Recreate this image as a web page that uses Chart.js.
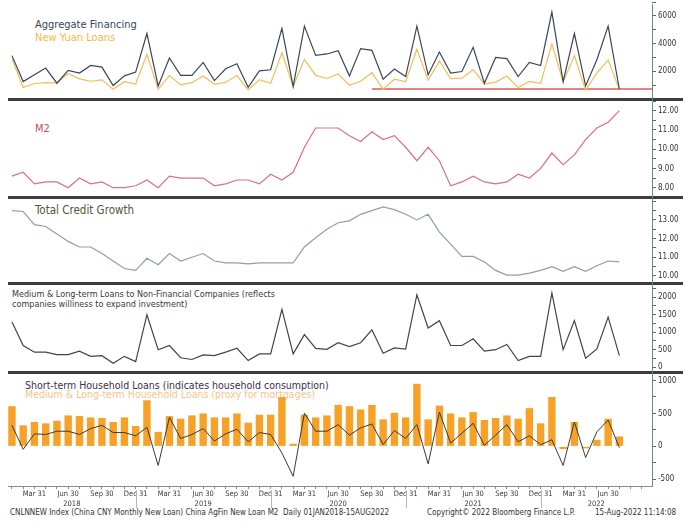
<!DOCTYPE html>
<html>
<head>
<meta charset="utf-8">
<script src="https://cdn.jsdelivr.net/npm/chart.js@4.4.0/dist/chart.umd.min.js"></script>
<style>
  html, body { margin: 0; padding: 0; background: #fff; }
  #lienzo {
    position: relative; width: 700px; height: 525px; overflow: hidden;
    font-family: "DejaVu Sans Condensed", "DejaVu Sans", sans-serif;
  }
  .titulo { position: absolute; white-space: nowrap; line-height: 1; z-index: 1; }
  canvas.panel { position: absolute; left: 0; z-index: 2; }
  .separador { position: absolute; left: 8px; width: 675px; height: 3px; background: #3d3d3d; z-index: 3; }
  .eje-derecho { position: absolute; left: 652px; top: 4px; width: 1px; height: 482px; background: #6f8a80; z-index: 4; }
  .pie { position: absolute; top: 509px; font-size: 8px; line-height: 1; color: #333; white-space: nowrap; }
</style>
</head>
<body>
<div id="lienzo">
  <div class="titulo" style="left:35px; top:19px; font-size:11px; color:#37455a;">Aggregate Financing</div>
  <div class="titulo" style="left:35px; top:32px; font-size:11px; color:#f2b84b;">New Yuan Loans</div>
  <div class="titulo" style="left:35px; top:123px; font-size:11px; color:#c94c5c;">M2</div>
  <div class="titulo" style="left:35px; top:205px; font-size:11.5px; color:#4b5a3c;">Total Credit Growth</div>
  <div class="titulo" style="left:12px; top:290px; font-size:9px; color:#3a3a3a;">Medium &amp; Long-term Loans to Non-Financial Companies (reflects</div>
  <div class="titulo" style="left:12px; top:300px; font-size:9px; color:#3a3a3a;">companies williness to expand investment)</div>
  <div class="titulo" style="left:25px; top:380px; font-size:10.5px; color:#3b2f4d;">Short-term Household Loans (indicates household consumption)</div>
  <div class="titulo" style="left:25px; top:389px; font-size:10.5px; color:#f9c48a;">Medium &amp; Long-term Household Loans (proxy for mortgages)</div>

  <canvas class="panel" id="chart-financiamiento"></canvas>
  <canvas class="panel" id="chart-m2"></canvas>
  <canvas class="panel" id="chart-credito"></canvas>
  <canvas class="panel" id="chart-empresas"></canvas>
  <canvas class="panel" id="chart-hogares"></canvas>

  <div class="separador" style="top:97.5px;"></div>
  <div class="separador" style="top:195.7px;"></div>
  <div class="separador" style="top:282.3px;"></div>
  <div class="separador" style="top:371px;"></div>
  <div class="eje-derecho"></div>

  <div class="pie" style="left:10px;">CNLNNEW Index (China CNY Monthly New Loan) China AgFin New Loan M2&nbsp; Daily 01JAN2018-15AUG2022</div>
  <div class="pie" style="left:427px;">Copyright© 2022 Bloomberg Finance L.P.</div>
  <div class="pie" style="left:595px;">15-Aug-2022 11:14:08</div>
</div>

<script>
'use strict';

// ====================
//  Datos (mensuales, ene-2018 .. jul-2022)
// ====================
const meses = [
  '2018-01', '2018-02', '2018-03', '2018-04', '2018-05', '2018-06', '2018-07', '2018-08', '2018-09', '2018-10', '2018-11', '2018-12',
  '2019-01', '2019-02', '2019-03', '2019-04', '2019-05', '2019-06', '2019-07', '2019-08', '2019-09', '2019-10', '2019-11', '2019-12',
  '2020-01', '2020-02', '2020-03', '2020-04', '2020-05', '2020-06', '2020-07', '2020-08', '2020-09', '2020-10', '2020-11', '2020-12',
  '2021-01', '2021-02', '2021-03', '2021-04', '2021-05', '2021-06', '2021-07', '2021-08', '2021-09', '2021-10', '2021-11', '2021-12',
  '2022-01', '2022-02', '2022-03', '2022-04', '2022-05', '2022-06', '2022-07'
];

const etiquetasTrimestre = ['Mar 31', 'Jun 30', 'Sep 30', 'Dec 31'];
const anios = ['2018', '2019', '2020', '2021', '2022'];

// Panel 1 (miles de millones CNY)
const financiamientoAgregado = [
  3130, 1260, 1750, 2230, 1140, 2060, 1870, 2420, 2300, 970, 1670, 1940,
  4725, 945, 2960, 1700, 1700, 2640, 1330, 2180, 2545, 850, 2035, 2110,
  5090, 895, 5260, 3150, 3250, 3490, 1670, 3635, 3515, 1430, 2160, 1620,
  5260, 1745, 3395, 1870, 1985, 3730, 1140, 3000, 2910, 1620, 2640, 2420,
  6275, 1260, 4725, 945, 2835, 5260, 705
];
const nuevosPrestamos = [
  2900, 839, 1120, 1180, 1150, 1840, 1450, 1280, 1380, 697, 1250, 1080,
  3230, 703, 1690, 1020, 1180, 1660, 1060, 1210, 1690, 661, 1390, 1140,
  3340, 906, 2850, 1700, 1480, 1810, 992, 1280, 1900, 689, 1430, 1260,
  3580, 1360, 2730, 1470, 1500, 2120, 1080, 1220, 1660, 826, 1270, 1130,
  3980, 1230, 3130, 645, 1890, 2810, 679
];
// Línea horizontal roja (desde sep-2020 hasta el borde derecho)
const lineaRojaDesde = 32;
const lineaRojaValor = 730;

// Panel 2 (% a/a)
const m2 = [
  8.6, 8.8, 8.2, 8.3, 8.3, 8.0, 8.5, 8.2, 8.3, 8.0, 8.0, 8.1,
  8.4, 8.0, 8.6, 8.5, 8.5, 8.5, 8.1, 8.2, 8.4, 8.4, 8.2, 8.7,
  8.4, 8.8, 10.1, 11.1, 11.1, 11.1, 10.7, 10.4, 10.9, 10.5, 10.7, 10.1,
  9.4, 10.1, 9.4, 8.1, 8.3, 8.6, 8.3, 8.2, 8.3, 8.7, 8.5, 9.0,
  9.8, 9.2, 9.7, 10.5, 11.1, 11.4, 12.0
];

// Panel 3 (% a/a)
const crecimientoCredito = [
  13.5, 13.45, 12.75, 12.65, 12.25, 11.85, 11.55, 11.55, 11.2, 10.8, 10.4, 10.3,
  10.95, 10.6, 11.2, 10.8, 11.0, 11.2, 10.8, 10.7, 10.7, 10.65, 10.7, 10.7,
  10.7, 10.7, 11.55, 12.05, 12.5, 12.85, 12.95, 13.3, 13.5, 13.7, 13.55, 13.3,
  13.0, 13.3, 12.35, 11.7, 11.05, 11.05, 10.75, 10.3, 10.05, 10.05, 10.15, 10.3,
  10.5, 10.25, 10.5, 10.25, 10.55, 10.8, 10.75
];

// Panel 4 (miles de millones CNY)
const prestamosEmpresasLP = [
  1290, 620, 430, 430, 360, 360, 460, 310, 330, 110, 310, 160,
  1500, 500, 620, 270, 220, 350, 330, 430, 540, 190, 380, 380,
  1650, 380, 930, 540, 510, 700, 590, 700, 1070, 400, 550, 520,
  2070, 1120, 1330, 620, 620, 810, 460, 500, 650, 190, 310, 310,
  2120, 500, 1330, 260, 520, 1430, 330
];

// Panel 5 (miles de millones CNY)
const prestamosHogarCP = [
  320, -45, 190, 180, 230, 230, 180, 270, 320, 210, 210, 160,
  290, -290, 440, 120, 180, 270, 80, 190, 260, 70, 210, 180,
  -100, -455, 505, 230, 230, 330, 170, 280, 340, 30, 240, 120,
  330, -265, 520, 50, 200, 350, 15, 170, 330, 70, 160, 25,
  100, -290, 370, -170, 220, 400, -20
];
const prestamosHogarLP = [
  610, 320, 370, 350, 390, 470, 460, 440, 430, 370, 440, 310,
  700, 220, 460, 420, 470, 500, 440, 440, 500, 360, 480, 480,
  750, 40, 480, 440, 470, 630, 610, 560, 630, 410, 510, 440,
  950, 410, 620, 500, 440, 520, 400, 430, 470, 420, 580, 350,
  750, -40, 370, -30, 100, 420, 150
];

// ====================
//  Configuración común
// ====================
const X_MIN = -0.35;
const X_MAX = 56.9;
const ULTIMO_DATO = meses.length - 1;
const ANCHO_EJE_Y = 48;
const FUENTE = '"DejaVu Sans Condensed", "DejaVu Sans", sans-serif';

Chart.defaults.font.family = FUENTE;
Chart.defaults.color = '#333';

function puntos(valores) {
  return valores.map(function (v, i) { return { x: i, y: v }; });
}

function linea(valores, color, ancho) {
  return {
    type: 'line',
    data: puntos(valores),
    borderColor: color,
    borderWidth: ancho || 1.2,
    pointRadius: 0,
    fill: false,
    tension: 0
  };
}

function ejeX(visible, alto) {
  return {
    type: 'linear',
    min: X_MIN,
    max: X_MAX,
    offset: false,
    display: visible,
    afterFit: function (scale) { if (visible) scale.height = alto; },
    afterBuildTicks: function (scale) {
      const ticks = [];
      for (let i = 0; i <= Math.floor(X_MAX); i++) ticks.push({ value: i });
      scale.ticks = ticks;
    },
    border: { display: true, color: '#8a8a8a', width: 1 },
    grid: { drawOnChartArea: false, offset: false, tickLength: 3, tickColor: '#8a8a8a' },
    ticks: {
      autoSkip: false,
      maxRotation: 0,
      padding: 1,
      color: '#3a3a3a',
      font: { size: 7.5 },
      callback: function (value) {
        if (value % 3 !== 2 || value > ULTIMO_DATO) return '';
        return etiquetasTrimestre[((value - 2) / 3) % 4];
      }
    }
  };
}

function ejeY(min, max, paso, etiqueta) {
  return {
    type: 'linear',
    position: 'right',
    min: min,
    max: max,
    afterFit: function (scale) { scale.width = ANCHO_EJE_Y; },
    afterBuildTicks: function (scale) {
      const ticks = [];
      const n0 = Math.ceil(min / paso - 1e-9);
      const n1 = Math.floor(max / paso + 1e-9);
      for (let n = n0; n <= n1; n++) ticks.push({ value: Math.round(n * paso * 1000) / 1000 });
      scale.ticks = ticks;
    },
    border: { display: false },
    grid: { drawOnChartArea: false, tickLength: 4, tickColor: '#55706a' },
    ticks: {
      autoSkip: false,
      padding: 2,
      color: '#333',
      font: { size: 8 },
      callback: function (value) { return etiqueta(value); }
    }
  };
}

// Años y divisores bajo el eje X
const pluginAnios = {
  id: 'anios',
  afterDraw: function (chart) {
    const escala = chart.scales.x;
    const ctx = chart.ctx;
    const base = chart.chartArea.bottom;
    ctx.save();
    ctx.font = '7.5px ' + FUENTE;
    ctx.fillStyle = '#3a3a3a';
    ctx.textAlign = 'center';
    ctx.textBaseline = 'middle';
    anios.forEach(function (anio, k) {
      const desde = Math.max(12 * k - 1, X_MIN);
      const hasta = Math.min(12 * k + 11, X_MAX);
      ctx.fillText(anio, escala.getPixelForValue((desde + hasta) / 2), base + 18);
      if (12 * k + 11 < X_MAX) {
        const xDiv = Math.round(escala.getPixelForValue(12 * k + 11)) + 0.5;
        ctx.strokeStyle = '#b5b5b5';
        ctx.lineWidth = 1;
        ctx.beginPath();
        ctx.moveTo(xDiv, base + 4);
        ctx.lineTo(xDiv, base + 22);
        ctx.stroke();
      }
    });
    ctx.restore();
  }
};

function crearPanel(idCanvas, areaTop, areaBottom, datasets, escalaY, conEjeX) {
  const canvas = document.getElementById(idCanvas);
  if (!canvas || typeof Chart === 'undefined') return null;

  const margen = 8;
  const altoEjeX = conEjeX ? 13 : 0;
  const margenInf = conEjeX ? 14 : margen;
  const alto = Math.round(areaBottom - areaTop) + margen + altoEjeX + margenInf;

  canvas.style.top = (areaTop - margen) + 'px';
  canvas.width = 700;
  canvas.height = alto;
  canvas.style.width = '700px';
  canvas.style.height = alto + 'px';

  return new Chart(canvas.getContext('2d'), {
    data: { datasets: datasets },
    options: {
      responsive: false,
      animation: false,
      layout: { padding: { left: 8, right: 0, top: margen, bottom: margenInf } },
      scales: { x: ejeX(conEjeX, altoEjeX), y: escalaY },
      plugins: { legend: { display: false }, tooltip: { enabled: false } }
    },
    plugins: conEjeX ? [pluginAnios] : []
  });
}

function etiquetaCada(multiplo, desde, hasta, decimales) {
  return function (v) {
    if (v < desde - 1e-9 || v > hasta + 1e-9) return '';
    const r = Math.round(v / multiplo) * multiplo;
    if (Math.abs(r - v) > 1e-6) return '';
    return decimales ? v.toFixed(decimales) : String(Math.round(v));
  };
}

// ====================
//  Paneles
// ====================
const lineaRoja = linea([], '#e05a5a', 1.5);
lineaRoja.data = [{ x: lineaRojaDesde, y: lineaRojaValor }, { x: X_MAX, y: lineaRojaValor }];

crearPanel('chart-financiamiento', 2, 98.6, [
  linea(financiamientoAgregado, '#3a4658', 1.2),
  linea(nuevosPrestamos, '#f5bd55', 1.2),
  lineaRoja
], ejeY(0, 7000, 1000, etiquetaCada(2000, 2000, 6000, 0)), false);

crearPanel('chart-m2', 101, 196, [
  linea(m2, '#d7727f', 1.2)
], ejeY(7.57, 12.5, 0.5, etiquetaCada(1, 8, 12, 2)), false);

crearPanel('chart-credito', 198.5, 283, [
  linea(crecimientoCredito, '#8ea398', 1.2)
], ejeY(9.57, 14.12, 0.5, etiquetaCada(1, 10, 13, 2)), false);

crearPanel('chart-empresas', 285.5, 371.5, [
  linea(prestamosEmpresasLP, '#444444', 1.2)
], ejeY(-137, 2320, 250, etiquetaCada(500, 0, 2000, 0)), false);

const barrasHogar = {
  type: 'bar',
  data: puntos(prestamosHogarLP),
  backgroundColor: '#f7a126',
  borderWidth: 0,
  barPercentage: 0.8,
  categoryPercentage: 0.82,
  order: 1
};
const lineaHogar = linea(prestamosHogarCP, '#3a3a3a', 1);
lineaHogar.order = 0;

crearPanel('chart-hogares', 373.5, 485, [
  lineaHogar,
  barrasHogar
], ejeY(-602, 1099, 250, etiquetaCada(500, -500, 1000, 0)), true);
</script>
</body>
</html>
